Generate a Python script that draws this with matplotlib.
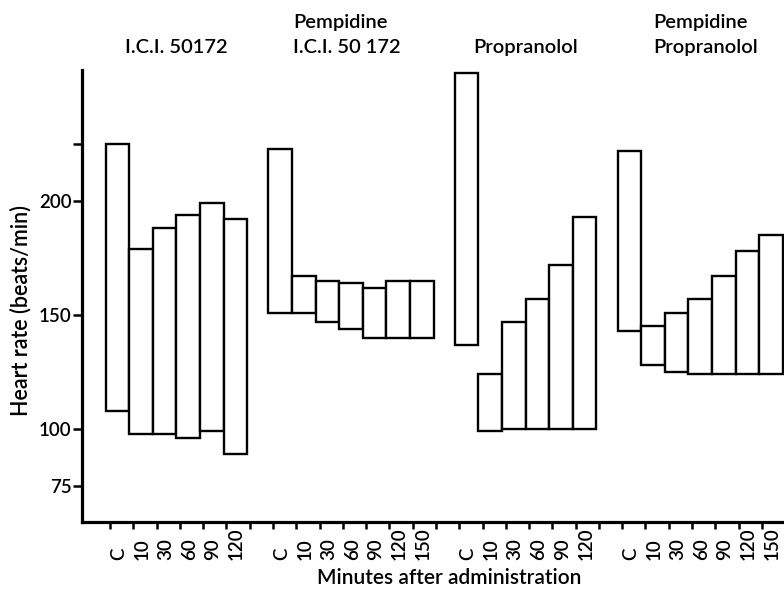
"""
Heart rate ranges after I.C.I. 50172 / propranolol, with and without pempidine.
Floating bars: each bar spans the low..high heart rate at one time point.
"""
import numpy as np
import matplotlib
matplotlib.use("Agg")
import matplotlib.pyplot as plt

plt.rcParams["font.family"] = ["Lato", "DejaVu Sans"]
plt.rcParams["font.weight"] = "semibold"

# ---- data ----
ici_times = ["C", "10", "30", "60", "90", "120"]
ici_high = [225, 179, 188, 194, 199, 192]
ici_low = [108, 98, 98, 96, 99, 89]

pemp_ici_times = ["C", "10", "30", "60", "90", "120", "150"]
pemp_ici_high = [223, 167, 165, 164, 162, 165, 165]
pemp_ici_low = [151, 151, 147, 144, 140, 140, 140]

prop_times = ["C", "10", "30", "60", "90", "120"]
prop_high = [256, 124, 147, 157, 172, 193]
prop_low = [137, 99, 100, 100, 100, 100]

pemp_prop_times = ["C", "10", "30", "60", "90", "120", "150"]
pemp_prop_high = [222, 145, 151, 157, 167, 178, 185]
pemp_prop_low = [143, 128, 125, 124, 124, 124, 124]

title_top = ["", "Pempidine", "", "Pempidine"]
title_bottom = ["I.C.I. 50172", "I.C.I. 50 172", "Propranolol", "Propranolol"]

groups = [
    (ici_times, ici_low, ici_high),
    (pemp_ici_times, pemp_ici_low, pemp_ici_high),
    (prop_times, prop_low, prop_high),
    (pemp_prop_times, pemp_prop_low, pemp_prop_high),
]

# ---- layout ----
W, H = 784, 593
fig = plt.figure(figsize=(W / 100, H / 100), dpi=100)
ax = fig.add_axes([82 / W, 1 - 521.7 / H, 702 / W, (521.7 - 70) / H])

group_start = [1.0, 7.9, 15.8, 22.7]
for (times, low, high), x0 in zip(groups, group_start):
    x = x0 + np.arange(len(times))
    low = np.array(low)
    high = np.array(high)
    ax.bar(x, high - low, bottom=low, width=1.0, align="edge",
           facecolor="white", edgecolor="black", linewidth=1.7, zorder=2)
    for xi, t in zip(x, times):
        ax.text(xi + 0.55, -0.085, t, transform=ax.get_xaxis_transform(),
                rotation=90, ha="center", va="bottom", fontsize=13.5)

ax.set_xlim(0, 29.75)
ax.set_ylim(59.3, 257.5)

ax.set_xticks(np.linspace(1.19, 28.81, 29))
ax.set_xticklabels([])
ax.tick_params(axis="x", direction="out", length=5, width=1.8)

ax.set_yticks([75, 100, 150, 200, 225])
ax.set_yticklabels(["75", "100", "150", "200", ""], fontsize=13.5)
ax.tick_params(axis="y", direction="out", length=6.5, width=1.8, pad=1)

for side in ["top", "right"]:
    ax.spines[side].set_visible(False)
for side in ["left", "bottom"]:
    ax.spines[side].set_linewidth(2.3)

fig.text(21 / W, 1 - 310 / H, "Heart rate (beats/min)", rotation=90,
         ha="center", va="center", fontsize=15.5)
fig.text(449 / W, 1 - 578 / H, "Minutes after administration",
         ha="center", va="center", fontsize=15)

title_x = [125, 293, 473, 653]
for xp, top, bottom in zip(title_x, title_top, title_bottom):
    fig.text(xp / W, 1 - 53 / H, bottom, ha="left", va="baseline", fontsize=14.5)
    if top:
        fig.text(xp / W, 1 - 28 / H, top, ha="left", va="baseline", fontsize=14.5)

fig.savefig("out.png", dpi=100)
